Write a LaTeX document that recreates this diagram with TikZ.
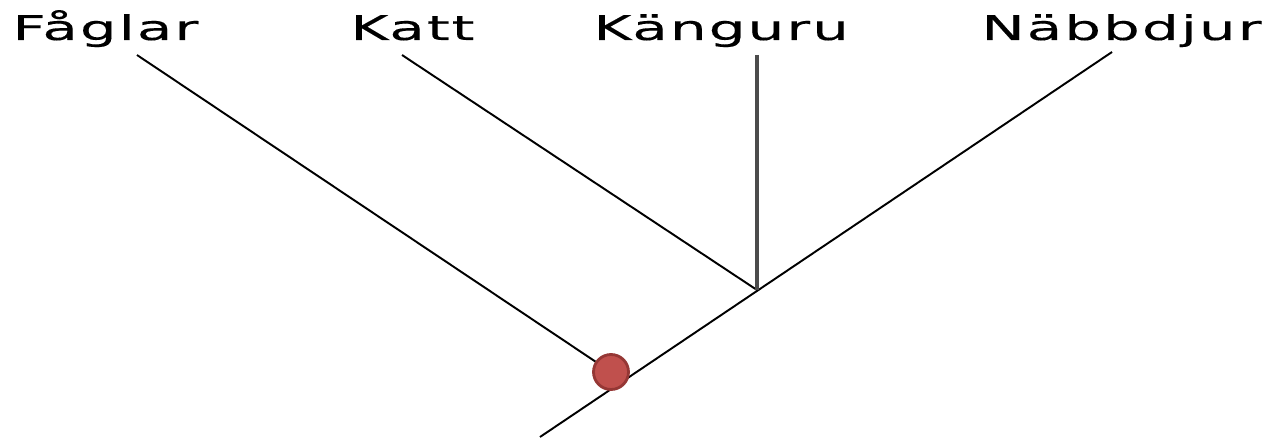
\documentclass[tikz,border=0pt]{standalone}
\usepackage{fontspec}
\newfontfamily\taxonfont[LetterSpace=6, FakeStretch=1.7, FakeBold=0.3]{DejaVu Sans}
\usetikzlibrary{positioning}
\definecolor{dotred}{RGB}{192,80,77}
\definecolor{dotrim}{RGB}{149,55,53}

\begin{document}
\begin{tikzpicture}[
    x=0.02cm, y=-0.02cm,
    taxon/.style={anchor=base west, inner sep=0pt, font=\taxonfont\fontsize{19.4}{22}\selectfont},
    branch/.style={line width=1.1pt, black},
    stem/.style={line width=1.9pt, black!70},
    marker/.style={circle, fill=dotred, draw=dotrim, line width=1.6pt, minimum size=0.7cm, inner sep=0pt}
]
    \useasboundingbox (0,0) rectangle (1278,439);

    % labels
    \node[taxon] (faglar) at (12,40) {Fåglar};
    \node[taxon] (katt) at (350,40) {Katt};
    \node[taxon] (kanguru) at (593,40) {Känguru};
    \node[taxon] (nabbdjur) at (981,40) {Näbbdjur};

    % branch tips and joints
    \coordinate (tipF) at (137,55);
    \coordinate (tipK) at (402,55);
    \coordinate (tipG) at (757,55);
    \coordinate (tipN) at (1112,52);
    \coordinate (split) at (757,290);
    \coordinate (root) at (540,437);

    \draw[branch] (root) -- (tipN);
    \draw[branch] (tipK) -- (split);
    \draw[stem] (tipG) -- (split);
    \node[marker] (dot) at (611,372) {};
    \draw[branch] (tipF) -- (dot);
\end{tikzpicture}
\end{document}
